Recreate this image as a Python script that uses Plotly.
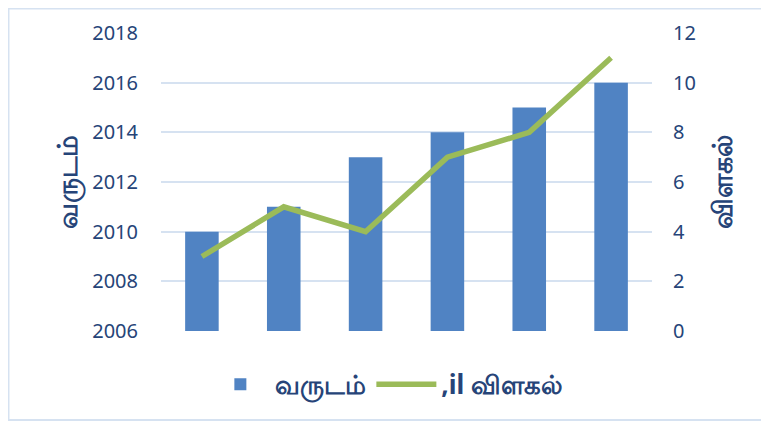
import plotly.graph_objects as go

categories = ["1", "2", "3", "4", "5", "6"]
years = [2010, 2011, 2013, 2014, 2015, 2016]
counts = [3, 5, 4, 7, 8, 11]
bar_name = "வருடம்"
line_name = ",il விளகல்"
left_title = "வருடம்"
right_title = "விளகல்"

txt = "#264478"
font_fam = "Noto Sans, Open Sans, sans-serif"

fig = go.Figure()
fig.add_trace(go.Bar(x=categories, y=years, name=bar_name, legendgroup="a",
                     marker=dict(color="#5083C3", line=dict(width=0)),
                     width=0.41, yaxis="y"))
fig.add_trace(go.Scatter(x=categories, y=counts, name=line_name, mode="lines", legendgroup="b",
                         line=dict(color="#9BBB59", width=5.5), yaxis="y2"))

fig.update_layout(
    width=769, height=424,
    margin=dict(l=153, r=125, t=25, b=101, autoexpand=False),
    paper_bgcolor="white", plot_bgcolor="white",
    font=dict(family=font_fam, color=txt, size=20),
    xaxis=dict(showticklabels=False, showgrid=False, zeroline=False,
               range=[-0.5, 5.5], fixedrange=True),
    yaxis=dict(range=[2006, 2018], dtick=2, showgrid=True, gridcolor="#D6E2F1",
               gridwidth=1.5, zeroline=False, showline=False,
               tickfont=dict(size=20, color=txt), ticks="", ticklabelstandoff=22,
               title=dict(text=left_title, font=dict(size=27, color=txt, weight="bold"), standoff=6)),
    yaxis2=dict(range=[0, 12], dtick=2, overlaying="y", side="right",
                showgrid=False, zeroline=False, showline=False,
                tickfont=dict(size=20, color=txt), ticks="", ticklabelstandoff=20,
                title=dict(text=right_title, font=dict(size=27, color=txt, weight="bold"), standoff=18)),
    legend=dict(orientation="h", x=0.46, xanchor="center", y=-0.1, yanchor="top",
                font=dict(size=26, color=txt, weight="bold"), itemwidth=60,
                traceorder="grouped", tracegroupgap=25),
    showlegend=True,
)
fig.add_shape(type="rect", xref="paper", yref="paper",
              x0=-0.3106, x1=1.2261, y0=-0.2987, y1=1.082,
              line=dict(color="#D6E2F1", width=2), fillcolor="rgba(0,0,0,0)", layer="below")

fig.write_html("out.html")
